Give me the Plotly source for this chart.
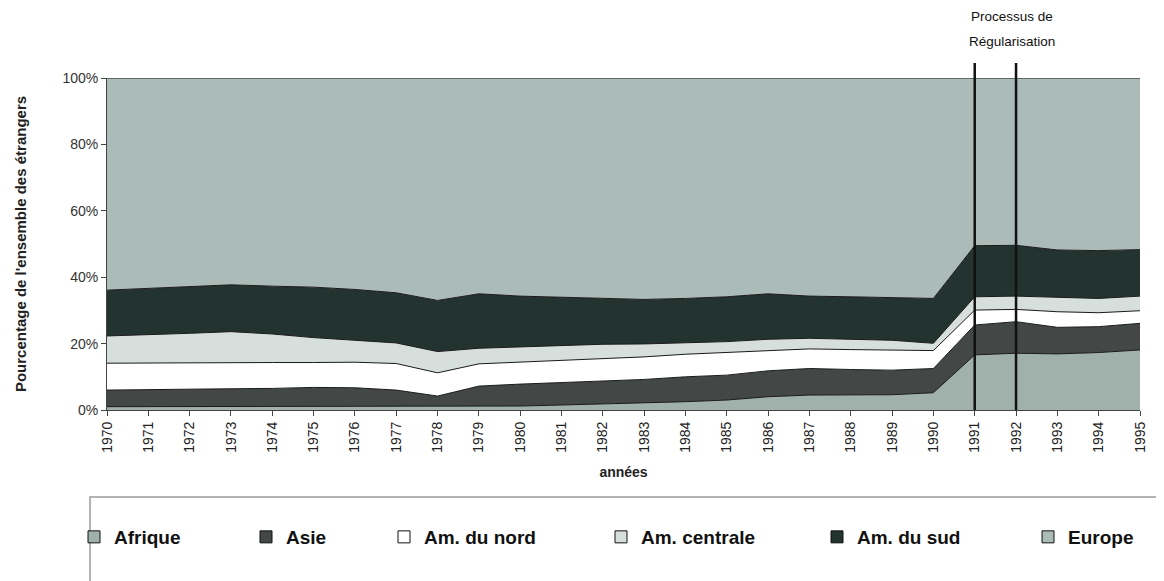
import plotly.graph_objects as go

# Years and regional shares (% of all foreigners)
years = list(range(1970, 1996))

afrique = [1.0, 1.0, 1.0, 1.0, 1.0, 1.0, 1.0, 1.0, 1.0, 1.0, 1.2, 1.5, 1.8,
           2.0, 2.5, 3.0, 4.0, 4.5, 4.5, 4.6, 5.2, 16.6, 17.1, 16.9, 17.3, 18.1]
asie = [5.0, 5.2, 5.3, 5.4, 5.5, 5.8, 5.7, 5.0, 3.2, 6.2, 6.6, 6.8, 7.0,
        7.2, 7.5, 7.5, 7.8, 8.0, 7.7, 7.4, 7.3, 9.0, 9.5, 8.0, 7.8, 8.0]
am_nord = [8.1, 8.0, 8.0, 7.9, 7.8, 7.5, 7.7, 8.0, 7.0, 6.7, 6.6, 6.5, 6.5,
           6.8, 6.8, 6.8, 6.2, 5.9, 6.0, 6.0, 5.4, 4.5, 3.7, 4.7, 4.2, 3.8]
am_centrale = [8.2, 8.4, 8.8, 9.3, 8.6, 7.5, 6.7, 6.2, 6.4, 4.7, 4.6, 4.6, 4.5,
               3.9, 3.5, 3.3, 3.3, 3.2, 3.1, 3.0, 2.2, 4.0, 4.0, 4.4, 4.3, 4.4]
am_sud = [13.8, 14.0, 13.9, 14.1, 14.4, 15.2, 15.2, 15.1, 15.4, 16.4, 15.3, 14.6, 13.9,
          13.4, 13.3, 13.5, 13.7, 12.7, 12.8, 12.9, 13.5, 15.4, 15.3, 14.2, 14.4, 14.0]
europe = [63.9, 63.4, 63.0, 62.3, 62.7, 63.0, 63.7, 64.7, 67.0, 65.0, 65.7, 66.0, 66.3,
          66.7, 66.4, 65.9, 65.0, 65.7, 65.9, 66.1, 66.4, 50.5, 50.4, 51.8, 52.0, 51.7]

y_ticks = [0, 20, 40, 60, 80, 100]
y_labels = ["0%", "20%", "40%", "60%", "80%", "100%"]

series = [
    ("Afrique", afrique, "#9fb1aa"),
    ("Asie", asie, "#434846"),
    ("Am. du nord", am_nord, "#ffffff"),
    ("Am. centrale", am_centrale, "#d6dfdc"),
    ("Am. du sud", am_sud, "#233430"),
    ("Europe", europe, "#abbbb8"),
]

regularisation_years = [1991, 1992]

# the page body has an 8px margin, so the figure is drawn 8px in from the window corner
OFF = 8
W, H = 1164 - OFF, 581 - OFF
L, R, T, B = 99, 24, 70, 171
pw, ph = W - L - R, H - T - B


def px_x(px):
    return (px - OFF - L) / pw


def px_y(py):
    return (H - B - (py - OFF)) / ph


FONT = "Liberation Sans, Arial, sans-serif"

fig = go.Figure()

for name, vals, color in series:
    fig.add_trace(go.Scatter(
        x=years, y=vals, name=name, stackgroup="one", mode="lines",
        line=dict(color="#1a1a1a", width=1), fillcolor=color,
        showlegend=False,
    ))

# legend entries, one small legend each so they sit where the original puts them
legend_text_px = [110, 282, 420, 637, 853, 1064]
layout_legends = {}
for i, ((name, vals, color), tx) in enumerate(zip(series, legend_text_px)):
    key = "legend" if i == 0 else f"legend{i + 1}"
    fig.add_trace(go.Scatter(
        x=[None], y=[None], mode="markers", name=name, legend=key,
        marker=dict(symbol="square", size=12, color=color,
                    line=dict(color="#111111", width=1)),
    ))
    layout_legends[key] = dict(
        x=px_x(tx - 36), y=px_y(537), xanchor="left", yanchor="middle",
        bgcolor="rgba(0,0,0,0)", itemwidth=30,
        font=dict(family=FONT, size=19, color="#111111", weight="bold"),
    )

shapes = []
for yr in regularisation_years:
    shapes.append(dict(type="line", xref="x", yref="paper", x0=yr, x1=yr,
                       y0=0, y1=px_y(63), line=dict(color="#111111", width=2.5)))
# legend frame
shapes.append(dict(type="rect", xref="paper", yref="paper",
                   x0=px_x(90), x1=px_x(1180), y0=px_y(497), y1=px_y(600),
                   line=dict(color="#9a9a9a", width=1.5)))

annotations = []
for txt, ypx in [("Processus de", 17), ("Régularisation", 42)]:
    annotations.append(dict(
        x=1991.9, y=px_y(ypx), xref="x", yref="paper", text=txt, showarrow=False,
        font=dict(family=FONT, size=13.5, color="#111111"),
        xanchor="center", yanchor="middle",
    ))

fig.update_layout(
    width=W, height=H,
    margin=dict(l=L, r=R, t=T, b=B),
    paper_bgcolor="white", plot_bgcolor="white",
    font=dict(family=FONT, color="#222222"),
    showlegend=True,
    shapes=shapes,
    annotations=annotations,
    **layout_legends,
)

fig.update_xaxes(
    range=[1970, 1995], tickmode="array", tickvals=years,
    ticktext=[str(y) for y in years], tickangle=-90,
    tickfont=dict(family=FONT, size=14, color="#222222"),
    ticks="outside", ticklen=5, tickcolor="#444444",
    showline=True, linecolor="#444444", showgrid=False, zeroline=False,
    title=dict(text="années", standoff=15,
               font=dict(family=FONT, size=14, color="#222222", weight="bold")),
)
fig.update_yaxes(
    range=[0, 100], tickmode="array", tickvals=y_ticks, ticktext=y_labels,
    tickfont=dict(family=FONT, size=14, color="#333333"),
    ticks="outside", ticklen=5, tickcolor="#444444",
    showline=True, linecolor="#444444", showgrid=False, zeroline=False,
    title=dict(text="Pourcentage de l'ensemble des étrangers", standoff=32,
               font=dict(family=FONT, size=15, color="#222222", weight="bold")),
)

fig.write_html("out.html")
